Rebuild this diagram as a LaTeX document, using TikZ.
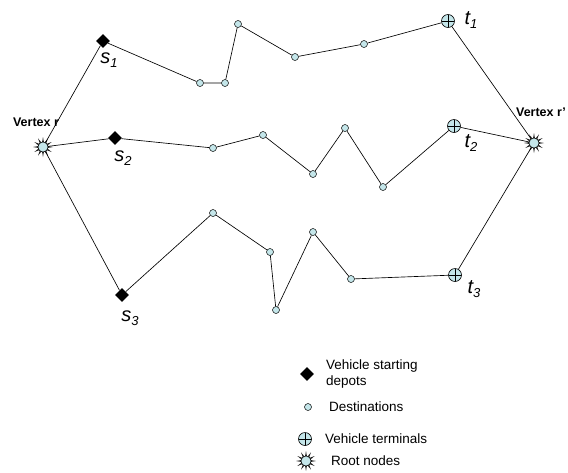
\documentclass[tikz,border=0pt]{standalone}
\usepackage{fontspec}
\setmainfont{Liberation Sans}
\usetikzlibrary{shapes.geometric}
\definecolor{dcyan}{RGB}{196,230,234}
\newcommand\mylab[2]{{\fontsize{20}{20}\selectfont\itshape #1}\raisebox{-4pt}{\fontsize{13}{13}\selectfont\itshape #2}}
\tikzset{
  dest/.style={circle, draw, fill=dcyan, minimum size=7pt, inner sep=0pt, line width=0.5pt},
  depot/.style={diamond, fill=black, minimum size=14pt, inner sep=0pt},
  term/.style={circle, draw, fill=dcyan, minimum size=13pt, inner sep=0pt, line width=0.6pt,
    path picture={\draw[line width=0.6pt] (path picture bounding box.north) -- (path picture bounding box.south)
      (path picture bounding box.west) -- (path picture bounding box.east);}},
  rootc/.style={circle, draw, fill=dcyan, minimum size=10pt, inner sep=0pt, line width=0.5pt},
  pics/burst/.style={code={
    \foreach \a in {0,30,...,330}{\fill[black!85] ({\a}:10pt) -- ({\a+13}:4.5pt) -- ({\a-13}:4.5pt) -- cycle;}
  }},
  vlab/.style={font=\fontsize{12.5}{12.5}\selectfont\bfseries},
  legtext/.style={font=\fontsize{13.5}{16.5}\selectfont, anchor=west, align=left, inner sep=0pt},
  edge/.style={line width=0.65pt}
}
\begin{document}
\begin{tikzpicture}[x=1pt,y=-1pt]
\useasboundingbox (0,0) rectangle (568,472);
% root nodes
\pic at (43,147) {burst};
\node[rootc] (r) at (43,147) {};
\pic at (534,143) {burst};
\node[rootc] (rp) at (534,143) {};
\node[vlab] (lr) at (36,122) {Vertex r};
\node[vlab] (lrp) at (541,112) {Vertex r'};
% depots
\node[depot] (s1) at (103,41) {};
\node[depot] (s2) at (115,138) {};
\node[depot] (s3) at (122,295) {};
% terminals
\node[term] (t1) at (448,21) {};
\node[term] (t2) at (454,126) {};
\node[term] (t3) at (455,275) {};
% top route
\node[dest] (a1) at (200,83) {};
\node[dest] (a2) at (225,83) {};
\node[dest] (a3) at (238,24) {};
\node[dest] (a4) at (295,57) {};
\node[dest] (a5) at (364,44) {};
% middle route
\node[dest] (b1) at (213,148) {};
\node[dest] (b2) at (263,135) {};
\node[dest] (b3) at (313,174) {};
\node[dest] (b4) at (345,128) {};
\node[dest] (b5) at (383,187) {};
% bottom route
\node[dest] (c1) at (213,213) {};
\node[dest] (c2) at (270,252) {};
\node[dest] (c3) at (276,310) {};
\node[dest] (c4) at (313,232) {};
\node[dest] (c5) at (351,279) {};
% edges
\draw[edge] (r) -- (s1) (r) -- (s2) (r) -- (s3);
\draw[edge] (s1) -- (a1) -- (a2) -- (a3) -- (a4) -- (a5) -- (t1);
\draw[edge] (s2) -- (b1) -- (b2) -- (b3) -- (b4) -- (b5) -- (t2);
\draw[edge] (s3) -- (c1) -- (c2) -- (c3) -- (c4) -- (c5) -- (t3);
\draw[edge] (t1) -- (rp) (t2) -- (rp) (t3) -- (rp);
% labels
\node (ls1) at (109,60) {\mylab{s}{1}};
\node (ls2) at (123,158) {\mylab{s}{2}};
\node (ls3) at (130,318) {\mylab{s}{3}};
\node (lt1) at (471,20) {\mylab{t}{1}};
\node (lt2) at (471,143) {\mylab{t}{2}};
\node (lt3) at (474,289) {\mylab{t}{3}};
% legend
\node[depot] (kd) at (307,374) {};
\node[legtext] (kdt) at (326,374) {Vehicle starting\\depots};
\node[dest] (kc) at (308,407) {};
\node[legtext] (kct) at (329,407) {Destinations};
\node[term] (kt) at (305,439) {};
\node[legtext] (ktt) at (325,439) {Vehicle terminals};
\pic at (306,461) {burst};
\node[rootc] (kr) at (306,461) {};
\node[legtext] (krt) at (331,461) {Root nodes};
\end{tikzpicture}
\end{document}
